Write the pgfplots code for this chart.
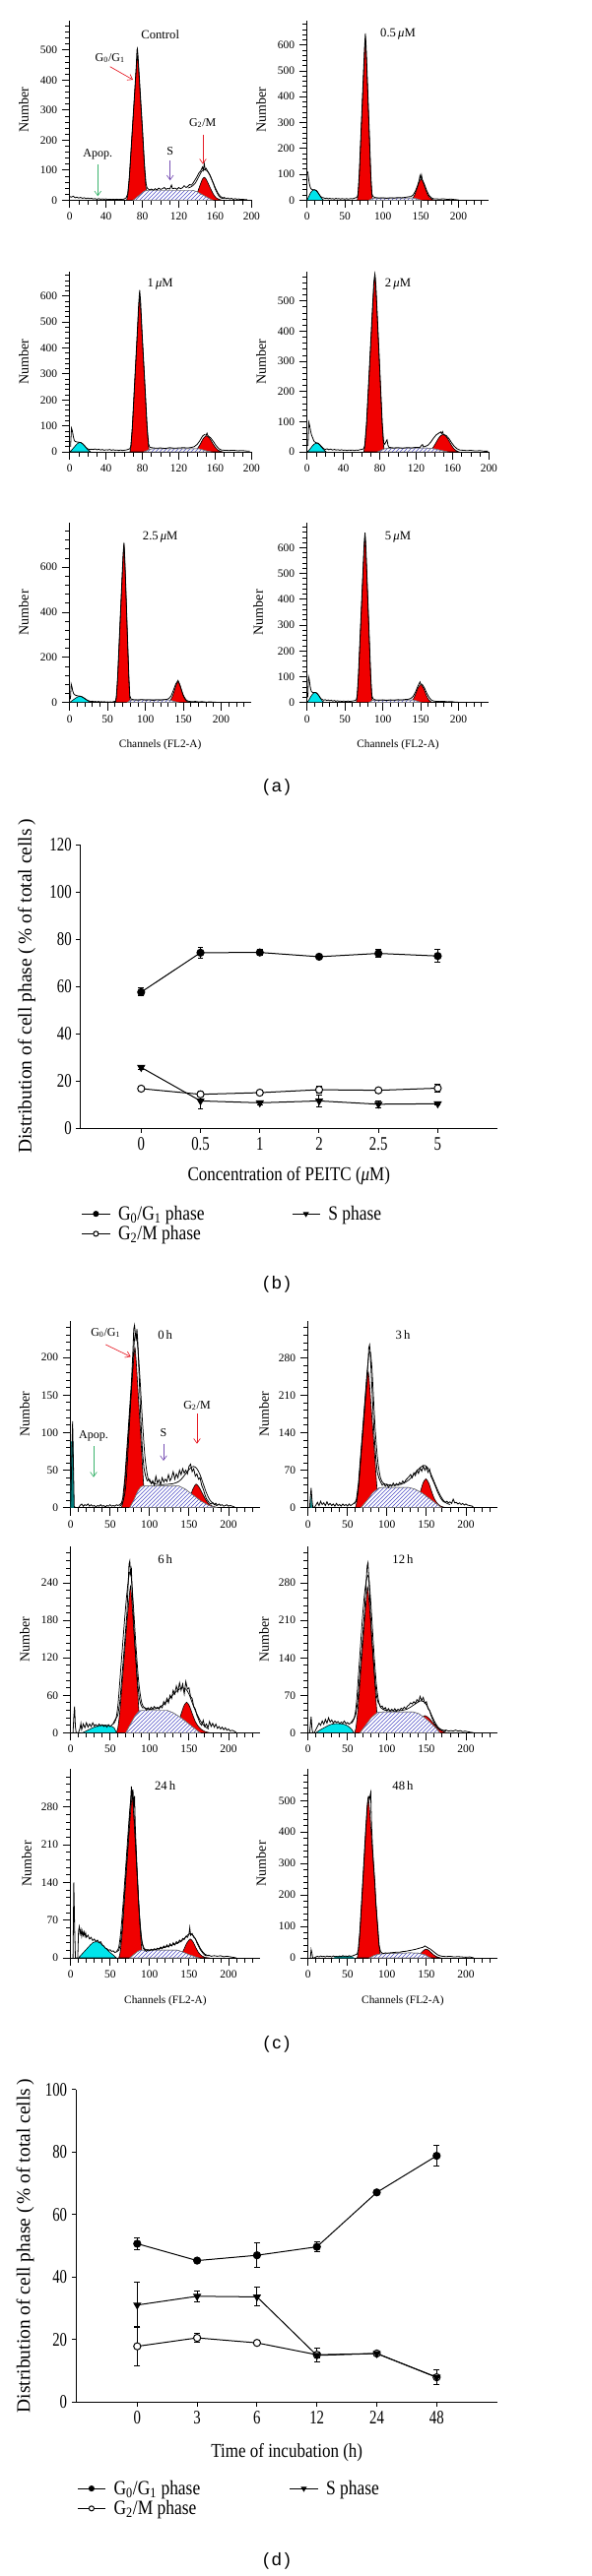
\documentclass[border=0pt]{standalone}
\usepackage{fontspec}
\setmainfont{Liberation Serif}
\newfontfamily\condA[FakeStretch=0.76]{Liberation Serif}
\newfontfamily\condB[FakeStretch=0.85]{Liberation Serif}
\newfontfamily\sansf{Liberation Sans}
\usepackage{pgfplots}
\pgfplotsset{compat=1.18}
\usetikzlibrary{patterns,arrows.meta}
\newcommand{\fsz}[1]{\fontsize{#1pt}{#1pt}\selectfont}
\newcommand{\legf}{\condB\fsz{15.4}}
\definecolor{hred}{RGB}{240,0,0}
\definecolor{hcyan}{RGB}{0,228,235}
\definecolor{hteal}{RGB}{0,128,128}
\definecolor{hatchc}{RGB}{80,80,200}
\definecolor{arrred}{RGB}{230,30,40}
\definecolor{arrpur}{RGB}{120,80,180}
\definecolor{arrgrn}{RGB}{60,180,110}
\pgfplotsset{
  hist/.style={
    scale only axis, anchor=south west,
    axis x line=bottom, axis y line=left,
    axis line style={-, line width=0.75pt},
    xmin=0, ymin=0,
    tick align=outside,
    major tick length=6pt, minor tick length=3.5pt,
    tick style={black, line width=0.6pt},
    ticklabel style={font=\fsz{8.6}},
    /pgf/number format/assume math mode=true,
  },
  histA/.style={hist, width=138.5pt},
  histC/.style={hist, width=144.2pt},
  redpk/.style={fill=hred, draw=black, line width=0.45pt, smooth, tension=0.4},
  shatch/.style={draw=black!55, line width=0.35pt, fill=white, postaction={pattern=north east lines, pattern color=hatchc}},
  cyanpk/.style={fill=hcyan, draw=black, line width=0.45pt, smooth, tension=0.4},
  tealpk/.style={fill=hteal, draw=hteal, line width=0.4pt},
  rawl/.style={black, line width=0.6pt, sharp plot},
  fitl/.style={black, line width=0.55pt, smooth, tension=0.5},
  lineplot/.style={
    scale only axis, anchor=south west,
    axis x line=bottom, axis y line=left,
    axis line style={-, line width=0.75pt},
    tick align=outside, major tick length=3.4pt,
    tick style={black, line width=0.75pt},
    xmin=-1.02, xmax=6.01, ymin=0,
    xtick={0,1,2,3,4,5},
    ticklabel style={font=\condA\fsz{14.6}},
    /pgf/number format/assume math mode=true,
    legend columns=2,
    legend cell align=left,
    legend style={draw=none, fill=none, inner sep=0pt, outer sep=0pt, row sep=3pt,
      font=\legf, nodes={inner sep=0pt},
      /tikz/every odd column/.append style={column sep=6pt}},
    legend image code/.code={\draw[mark repeat=2,mark phase=2,##1,mark size=1.9pt] plot coordinates {(0pt,0pt) (10.6pt,0pt) (21.2pt,0pt)};},
  },
  g1s/.style={black, line width=0.75pt, mark=*, mark size=2.7pt, mark options={solid, fill=black}},
  g2s/.style={black, line width=0.75pt, mark=*, mark size=2.7pt, mark options={solid, fill=white}},
  ss/.style={black, line width=0.75pt, mark=triangle*, mark size=2.9pt, mark options={solid, fill=black, rotate=180}},
  ebar/.style={error bars/y dir=both, error bars/y explicit,
    error bars/error bar style={line width=0.75pt, solid},
    error bars/error mark options={rotate=90, mark size=2.2pt, line width=0.75pt}},
}
\begin{document}
\begin{tikzpicture}[x=0.75pt,y=-0.75pt]
\path[use as bounding box] (0,0) rectangle (600,2617);

% ================= (a) row 1: Control =================
\begin{axis}[histA, height=136.95pt, at={(53.03pt,-152.48pt)}, xmax=200, ymax=599,
  xtick={0,40,...,200}, minor xtick={10,20,...,190},
  ytick={0,100,...,500}, minor ytick={20,40,...,580}]
\addplot[redpk] coordinates {(62.6,0)(63.8,14)(65.6,72)(68.6,216)(71.6,360)(73.3,442)(74.5,480)(75.7,442)(77.4,360)(80.3,216)(83.1,72)(84.9,14)(86,0)} \closedcycle;
\addplot[redpk] coordinates {(134,2)(137,8)(140,22)(142,38)(144,55)(146,70)(148,76)(150,70)(152,58)(155,38)(158,20)(161,8)(164,3)(167,0)} \closedcycle;
\addplot[shatch] coordinates {(70,0)(76,15)(82,30)(86,33)(135,33)(140,28)(146,18)(152,8)(157,0)} \closedcycle;
\addplot[fitl] coordinates {(130,40)(134,45)(138,56)(142,78)(145,95)(148,102)(151,98)(154,84)(157,64)(160,42)(163,24)(166,12)(170,5)};
\addplot[rawl] coordinates {(0,12)(2,10)(4,13)(6,8)(8,10)(10,7)(12,9)(14,6)(16,8)(18,5)(20,7)(22,5)(24,6)(26,4)(28,5)(30,3)(32,5)(34,3)(36,4)(38,3)(40,4)(42,2)(44,3)(46,2)(48,3)(50,2)(52,3)(54,2)(56,3)(58,2)(60,4)(62,7)(63.8,20)(65.6,75)(68.6,220)(71.6,365)(73.3,450)(74,500)(74.5,505)(75.2,480)(75.7,455)(77.4,370)(80.3,225)(82,130)(83.1,85)(84,55)(85,42)(86,38)(88,34)(90,37)(92,33)(94,38)(96,34)(98,40)(100,36)(102,38)(104,42)(106,36)(108,39)(110,37)(112,50)(113,38)(116,40)(118,36)(120,42)(122,38)(124,41)(126,48)(128,42)(130,46)(132,52)(134,50)(136,58)(138,68)(140,78)(142,90)(144,97)(146,110)(147,100)(148,122)(149,102)(150,106)(152,95)(154,85)(156,70)(158,55)(160,38)(162,25)(164,14)(166,8)(168,6)(170,9)(172,5)(174,7)(176,4)(178,6)(180,3)(182,5)(184,3)(186,4)(188,2)(190,3)(192,2)(195,2)};
\end{axis}

% ================= (a) row 1: 0.5 uM =================
\begin{axis}[histA, height=136.95pt, at={(233.78pt,-152.48pt)}, xmax=240, ymax=695,
  xtick={0,50,...,200}, minor xtick={10,20,...,230},
  ytick={0,100,...,600}, minor ytick={20,40,...,680}]
\addplot[redpk] coordinates {(66.2,0)(67.3,19)(68.9,94)(71.6,281)(74.3,469)(75.9,575)(77,625)(78,575)(79.4,469)(81.8,281)(84.1,94)(85.6,19)(86.5,0)} \closedcycle;
\addplot[redpk] coordinates {(136,0)(139,6)(142,20)(145,45)(148,70)(150.5,82)(153,70)(156,45)(159,22)(162,9)(165,3)(168,0)} \closedcycle;
\addplot[shatch] coordinates {(82,0)(86,6)(90,8)(140,8)(146,4)(150,0)} \closedcycle;
\addplot[cyanpk] coordinates {(0,0)(2,12)(4,25)(6,34)(8,39)(10,40)(12,38)(14,32)(16,22)(18,12)(20,5)(22,0)} \closedcycle;
\addplot[rawl] coordinates {(1,110)(2,85)(3,65)(4,52)(5,45)(6,42)(8,40)(10,40)(12,37)(14,30)(16,22)(18,14)(20,10)(22,9)(24,6)(26,8)(28,5)(30,7)(32,5)(34,6)(36,4)(38,7)(40,5)(42,6)(44,4)(46,6)(48,5)(50,4)(52,6)(54,4)(56,5)(58,6)(60,5)(62,7)(64,9)(66.2,12)(67.3,25)(68.9,100)(71.6,290)(74.3,480)(75.9,590)(77,645)(78,590)(79.4,480)(81.8,290)(84.1,100)(85.6,25)(87,14)(90,10)(92,9)(95,8)(100,9)(105,7)(110,9)(115,8)(120,10)(125,9)(130,11)(134,13)(137,14)(140,20)(143,35)(146,58)(148,78)(149,95)(150,84)(151,98)(152,80)(155,60)(158,36)(161,18)(164,9)(167,5)(170,5)(175,4)(180,5)(185,3)(190,4)(195,2)(200,1)};
\end{axis}

% ================= (a) row 2: 1 uM =================
\begin{axis}[histA, height=137.5pt, at={(53.03pt,-344.25pt)}, xmax=200, ymax=695,
  xtick={0,40,...,200}, minor xtick={10,20,...,190},
  ytick={0,100,...,600}, minor ytick={20,40,...,680}]
\addplot[redpk] coordinates {(66.2,0)(67.3,18)(68.9,89)(71.6,268)(74.3,446)(75.9,547)(77,595)(78.1,547)(79.7,446)(82.5,268)(85.2,89)(86.8,18)(87.9,0)} \closedcycle;
\addplot[redpk] coordinates {(135,0)(138,5)(141,15)(144,32)(147,52)(150.5,62)(154,52)(157,34)(160,18)(163,7)(166,2)(168,0)} \closedcycle;
\addplot[shatch] coordinates {(82,0)(88,10)(92,12)(142,12)(150,4)(155,0)} \closedcycle;
\addplot[cyanpk] coordinates {(0,0)(2,6)(4,14)(6,22)(8,30)(10,35)(12,36)(14,32)(16,25)(18,16)(20,8)(22,3)(23,0)} \closedcycle;
\addplot[rawl] coordinates {(1,20)(2,91)(3,80)(4,60)(5,45)(6,40)(8,38)(10,37)(12,36)(14,32)(16,25)(18,17)(20,11)(22,9)(24,10)(26,9)(28,11)(30,8)(32,10)(34,7)(36,9)(38,6)(40,8)(42,7)(44,9)(46,6)(48,8)(50,6)(52,7)(54,5)(56,7)(58,5)(60,6)(62,7)(64,9)(66.2,12)(67.3,22)(68.9,95)(71.6,275)(74.3,455)(75.9,570)(77,623)(78.1,575)(79.7,455)(82.5,275)(85.2,95)(86.8,30)(88,18)(90,16)(95,14)(100,15)(105,13)(110,16)(115,14)(120,15)(125,16)(130,15)(134,17)(137,20)(140,28)(143,42)(146,60)(148,66)(150,64)(151,72)(152,62)(155,54)(158,40)(161,24)(164,12)(167,7)(170,6)(175,5)(180,6)(185,4)(190,5)(195,3)(198,3)};
\end{axis}

% ================= (a) row 2: 2 uM =================
\begin{axis}[histA, height=137.5pt, at={(233.78pt,-344.25pt)}, xmax=200, ymax=598,
  xtick={0,40,...,200}, minor xtick={10,20,...,190},
  ytick={0,100,...,500}, minor ytick={20,40,...,580}]
\addplot[redpk] coordinates {(62.3,0)(63.5,18)(65.4,88)(68.5,265)(71.5,441)(73.4,541)(74.6,588)(75.7,541)(77.3,441)(80,265)(82.7,88)(84.3,18)(85.4,0)} \closedcycle;
\addplot[redpk] coordinates {(132,0)(135,4)(138,12)(141,26)(144,42)(147,54)(149.5,57)(152,54)(155,42)(158,26)(161,12)(164,4)(167,0)} \closedcycle;
\addplot[shatch] coordinates {(78,0)(85,10)(90,12)(130,13)(140,10)(150,3)(154,0)} \closedcycle;
\addplot[cyanpk] coordinates {(0,0)(2,5)(4,12)(6,20)(8,26)(10,29)(12,28)(14,23)(16,15)(18,8)(20,3)(21,0)} \closedcycle;
\addplot[rawl] coordinates {(1,20)(2,97)(3,85)(4,68)(5,55)(6,48)(7,40)(8,34)(10,30)(12,29)(14,24)(16,17)(18,11)(20,8)(22,10)(24,7)(26,9)(28,6)(30,8)(32,6)(34,7)(36,5)(38,7)(40,5)(42,6)(44,4)(46,6)(48,5)(50,6)(52,4)(54,6)(56,5)(58,7)(60,8)(62.3,10)(63.5,22)(65.4,95)(68.5,272)(71.5,450)(73.4,560)(74.6,588)(75.7,550)(77.3,450)(80,272)(82.7,95)(84.3,30)(85.5,25)(87,35)(88,40)(89,22)(90,15)(95,13)(100,14)(105,12)(110,14)(115,13)(120,15)(124,14)(126,22)(127,24)(128,16)(130,18)(133,22)(136,32)(139,45)(142,56)(145,62)(147,66)(148,60)(149,67)(150,58)(153,54)(156,44)(159,30)(162,18)(165,10)(168,6)(172,5)(176,4)(180,5)(185,3)(190,4)(195,2)(199,2)};
\end{axis}

% ================= (a) row 3: 2.5 uM =================
\begin{axis}[histA, height=137.25pt, at={(53.03pt,-535.28pt)}, xmax=240, ymax=798,
  xtick={0,50,...,200}, minor xtick={10,20,...,230},
  ytick={0,200,...,600}, minor ytick={40,80,...,760}]
\addplot[redpk] coordinates {(60.5,0)(61.6,21)(63.3,105)(66.1,315)(68.9,525)(70.6,644)(71.7,700)(72.6,644)(73.9,525)(76,315)(78.2,105)(79.4,21)(80.3,0)} \closedcycle;
\addplot[redpk] coordinates {(129,0)(132,6)(135,22)(138,50)(140.5,78)(143,93)(145.5,78)(148,50)(151,22)(154,7)(157,2)(159,0)} \closedcycle;
\addplot[shatch] coordinates {(76,0)(80,10)(85,12)(130,12)(135,8)(140,3)(143,0)} \closedcycle;
\addplot[cyanpk] coordinates {(0,0)(3,8)(6,15)(9,22)(12,27)(14,28)(17,24)(20,17)(23,10)(26,4)(28,0)} \closedcycle;
\addplot[rawl] coordinates {(1,15)(2,82)(3,70)(4,52)(5,42)(6,36)(8,32)(10,30)(12,29)(14,28)(16,26)(18,22)(20,18)(22,13)(24,9)(26,7)(28,5)(30,6)(32,4)(34,5)(36,3)(38,5)(40,3)(42,4)(44,3)(46,4)(48,2)(50,3)(52,2)(54,3)(56,2)(58,4)(60.5,6)(61.6,25)(63.3,110)(66.1,322)(68.9,535)(70.6,660)(71.7,707)(72.6,650)(73.9,530)(76,320)(78.2,110)(79.4,30)(81,16)(85,12)(90,11)(95,13)(100,11)(105,12)(110,10)(115,12)(120,11)(125,13)(128,14)(131,18)(134,30)(137,55)(140,82)(142,92)(143,98)(144,90)(146,72)(148,52)(150,32)(152,20)(154,11)(156,7)(158,5)(162,4)(166,5)(170,3)(175,4)(180,2)(185,3)(190,2)(195,1)};
\end{axis}

% ================= (a) row 3: 5 uM =================
\begin{axis}[histA, height=137.25pt, at={(233.78pt,-535.28pt)}, xmax=240, ymax=698,
  xtick={0,50,...,200}, minor xtick={10,20,...,230},
  ytick={0,100,...,600}, minor ytick={20,40,...,680}]
\addplot[redpk] coordinates {(64.9,0)(66.1,20)(67.8,98)(70.7,293)(73.6,488)(75.3,598)(76.5,650)(77.5,598)(79,488)(81.5,293)(84,98)(85.5,20)(86.5,0)} \closedcycle;
\addplot[redpk] coordinates {(134,0)(137,4)(140,13)(143,31)(146,54)(150,70)(154,54)(157,31)(160,13)(163,4)(166,0)} \closedcycle;
\addplot[shatch] coordinates {(82,0)(86,8)(90,10)(140,10)(146,5)(150,0)} \closedcycle;
\addplot[cyanpk] coordinates {(0,0)(2,8)(4,18)(6,28)(8,35)(10,39)(12,38)(14,33)(16,25)(18,15)(20,7)(22,2)(23,0)} \closedcycle;
\addplot[rawl] coordinates {(1,20)(2,100)(3,88)(4,65)(5,50)(6,42)(8,38)(10,39)(12,38)(14,33)(16,25)(18,16)(20,12)(22,9)(24,11)(26,8)(28,10)(30,7)(32,9)(34,6)(36,8)(38,5)(40,7)(42,5)(44,6)(46,4)(48,6)(50,5)(52,4)(54,6)(56,4)(58,5)(60,6)(62,7)(64.9,10)(66.1,25)(67.8,105)(70.7,300)(73.6,495)(75.3,610)(76.5,658)(77.5,610)(79,495)(81.5,300)(84,105)(85.5,28)(87,15)(90,10)(95,9)(100,10)(105,8)(110,10)(115,9)(120,11)(125,10)(130,12)(134,13)(137,16)(140,24)(143,40)(146,62)(148,74)(149,80)(150,72)(152,70)(155,56)(158,36)(161,20)(164,10)(167,6)(170,5)(175,4)(180,5)(185,3)(190,4)(195,2)(200,1)};
\end{axis}

% ================= (b) =================
\begin{axis}[lineplot, at={(61.43pt,-859.5pt)}, width=317.5pt, height=215.8pt,
  ymax=120, ytick={0,20,...,120}, xticklabels={0,0.5,1,2,2.5,5},
  legend style={at={(axis description cs:0.002,-0.2746)}, anchor=north west}]
\addlegendimage{g1s}\addlegendentry{\legf\makebox[132pt][l]{G\textsubscript{0}/G\textsubscript{1} phase}}
\addlegendimage{ss}\addlegendentry{\legf S phase}
\addlegendimage{g2s}\addlegendentry{\legf\makebox[132pt][l]{G\textsubscript{2}/M phase}}
\addplot[g2s, forget plot, ebar] coordinates {(0,16.7) +- (0,0.8) (1,14.3) +- (0,1.3) (2,15.0) +- (0,0.8) (3,16.25) +- (0,1.5) (4,16.0) +- (0,1.0) (5,16.9) +- (0,1.8)};
\addplot[ss, forget plot, ebar] coordinates {(0,25.7) +- (0,0.8) (1,11.5) +- (0,3.5) (2,10.7) +- (0,0.8) (3,11.5) +- (0,2.6) (4,10.1) +- (0,1.5) (5,10.3) +- (0,0.5)};
\addplot[g1s, forget plot, ebar] coordinates {(0,57.6) +- (0,1.7) (1,74.3) +- (0,2.3) (2,74.4) +- (0,1.2) (3,72.6) +- (0,1.0) (4,74.0) +- (0,1.6) (5,72.9) +- (0,2.6)};
\end{axis}

% ================= (c) row 1: 0 h =================
\begin{axis}[histC, height=142.5pt, at={(53.78pt,-1148.78pt)}, xmax=240, ymax=249,
  xtick={0,50,...,200}, minor xtick={10,20,...,230},
  ytick={0,50,...,200}, minor ytick={10,20,...,240}]
\addplot[redpk] coordinates {(64.3,0)(66,6)(68.6,32)(72.9,96)(77.2,160)(79.8,196)(81.5,213)(83,196)(85.1,160)(88.8,96)(92.4,32)(94.6,6)(96,0)} \closedcycle;
\addplot[redpk] coordinates {(145,0)(149,8)(152,16)(155,25)(159,31.5)(163,27)(167,19)(171,11)(175,5)(180,2)(187,0)} \closedcycle;
\addplot[shatch] coordinates {(75,0)(80,10)(85,22)(89,28)(92,29)(137,29)(145,25)(155,17)(165,9)(175,3)(185,0)} \closedcycle;
\addplot[tealpk] coordinates {(0,0)(1,88)(3,88)(4,0)} \closedcycle;
\addplot[fitl] coordinates {(62,2)(66,7)(70,30)(74,100)(78,175)(81,225)(83,232)(85,215)(88,170)(91,115)(94,70)(97,45)(100,35)(110,31)(120,31)(130,32)(137,35)(142,40)(147,47)(152,53)(156,55)(160,52)(164,44)(168,32)(172,20)(176,11)(180,6)(185,3)};
\addplot[rawl] coordinates {(0,0)(1.5,70)(2.5,115)(3.5,60)(4.5,2)(6,0)(10,0)(12,3)(14,5)(16,2)(18,4)(20,3)(22,5)(24,2)(26,4)(28,2)(30,3)(32,1)(34,3)(36,2)(38,4)(40,2)(42,3)(44,1)(46,3)(48,2)(50,4)(52,2)(54,3)(56,2)(58,4)(60,3)(62,4)(64.3,6)(66,12)(68.6,38)(72.9,102)(77.2,170)(79,210)(80,238)(81,243)(82,232)(83,222)(84,238)(85,222)(86,198)(88.8,120)(91,75)(93,52)(95,42)(97,36)(100,38)(102,32)(104,36)(106,30)(108,42)(110,33)(112,37)(114,31)(116,40)(118,34)(120,38)(122,35)(124,44)(126,36)(128,40)(130,48)(132,38)(134,45)(136,40)(138,50)(140,44)(142,52)(144,46)(146,50)(148,45)(150,55)(152,58)(154,48)(156,52)(158,42)(160,45)(162,38)(164,40)(166,30)(168,25)(170,18)(172,12)(174,9)(176,6)(178,5)(180,7)(182,4)(184,6)(186,3)(188,5)(190,3)(192,4)(194,2)(196,3)(198,4)(200,2)(202,3)(205,2)(208,1)};
\end{axis}

% ================= (c) row 1: 3 h =================
\begin{axis}[histC, height=142.5pt, at={(234.53pt,-1148.78pt)}, xmax=240, ymax=349,
  xtick={0,50,...,200}, minor xtick={10,20,...,230},
  ytick={0,70,...,280}, minor ytick={14,28,...,336}]
\addplot[redpk] coordinates {(59.8,0)(61.4,8)(63.9,38)(68,114)(72.2,190)(74.7,234)(76.3,254)(77.8,234)(79.9,190)(83.7,114)(87.3,38)(89.5,8)(91,0)} \closedcycle;
\addplot[redpk] coordinates {(134,0)(137,7)(140,18)(143,33)(146,47)(149.4,54)(153,46)(156,33)(160,17)(164,8)(168,3)(172,1)(177,0)} \closedcycle;
\addplot[shatch] coordinates {(67,0)(74,12)(82,28)(90,37)(95,38)(127,38)(135,35)(145,27)(155,16)(163,7)(169,0)} \closedcycle;
\addplot[tealpk] coordinates {(3,0)(4,22)(5,0)} \closedcycle;
\addplot[fitl] coordinates {(58,8)(61,12)(64,40)(68,115)(72,195)(75,250)(77,285)(79,290)(81,260)(83,205)(85,150)(87,110)(89,80)(92,55)(96,45)(104,42)(112,42)(120,45)(128,52)(134,62)(140,72)(145,78)(148,79)(152,74)(156,62)(160,48)(164,34)(168,22)(172,13)(176,8)(180,6)};
\addplot[rawl] coordinates {(2,0)(3,20)(4,37)(5,15)(6,2)(8,0)(10,5)(12,10)(14,4)(16,12)(18,6)(20,9)(22,4)(24,11)(26,5)(28,8)(30,4)(32,7)(34,3)(36,8)(38,4)(40,6)(42,3)(44,7)(46,4)(48,6)(50,3)(52,7)(54,4)(56,6)(58,8)(59.8,10)(61.4,16)(63.9,45)(68,122)(72.2,200)(74.7,250)(75.5,262)(76.3,275)(77,298)(78,304)(79,288)(79.9,258)(82,195)(83.7,140)(86,92)(88,65)(90,55)(92,48)(94,42)(96,45)(98,40)(100,44)(102,38)(104,43)(106,40)(108,46)(110,41)(112,45)(114,42)(116,47)(118,44)(120,50)(122,46)(124,52)(126,55)(128,58)(130,62)(132,56)(134,65)(136,60)(138,70)(140,64)(142,74)(144,68)(146,78)(148,70)(150,76)(152,66)(154,72)(156,58)(158,52)(160,45)(162,38)(164,30)(166,24)(168,18)(170,14)(172,11)(174,10)(176,12)(178,9)(180,11)(182,8)(184,16)(186,9)(188,10)(190,7)(192,9)(194,6)(196,8)(198,5)(200,7)(202,5)(205,4)(208,3)(210,0)};
\end{axis}

% ================= (c) row 2: 6 h =================
\begin{axis}[histC, height=142.2pt, at={(53.78pt,-1320.23pt)}, xmax=240, ymax=299,
  xtick={0,50,...,200}, minor xtick={10,20,...,230},
  ytick={0,60,...,240}, minor ytick={12,24,...,288}]
\addplot[redpk] coordinates {(58,0)(59.8,7)(62.5,35)(67,106)(71.3,176)(74.1,216)(75.9,235)(77.3,216)(79.4,176)(83,106)(86.5,35)(88.6,7)(90,0)} \closedcycle;
\addplot[redpk] coordinates {(131,0)(134,8)(137,18)(140,30)(143.5,43)(147,49)(150.5,43)(154,31)(158,18)(162,10)(166,5)(170,2)(176,0)} \closedcycle;
\addplot[shatch] coordinates {(70,0)(75,12)(82,28)(87,35)(92,36)(122,36)(130,32)(140,24)(150,14)(158,6)(164,0)} \closedcycle;
\addplot[cyanpk] coordinates {(15,0)(20,3)(25,6)(30,9)(35,11)(40,12)(45,12)(50,11)(55,8)(58,0)} \closedcycle;
\addplot[fitl] coordinates {(54,14)(57,20)(60,45)(64,110)(68,175)(71,220)(74,252)(76,258)(78,232)(80,195)(83,135)(86,85)(89,55)(92,42)(98,38)(105,38)(112,40)(120,48)(126,56)(132,64)(138,70)(142,72)(146,70)(150,62)(155,45)(160,30)(165,18)(170,10)(175,6)};
\addplot[rawl] coordinates {(3,0)(4,25)(5,42)(6,10)(7,0)(10,0)(12,8)(13,15)(14,5)(16,14)(18,8)(20,16)(22,9)(24,14)(26,10)(28,16)(30,11)(32,13)(34,10)(36,14)(38,11)(40,13)(42,10)(44,12)(46,9)(48,13)(50,10)(52,12)(54,15)(56,20)(58,24)(59.8,28)(62.5,50)(67,120)(71.3,190)(73,240)(74,270)(75,275)(76,255)(77,262)(78,228)(79.4,190)(81,150)(83,115)(85,78)(87,55)(89,45)(91,40)(94,40)(96,36)(98,40)(100,37)(102,41)(104,38)(106,42)(108,39)(110,41)(112,38)(114,43)(116,40)(118,50)(120,45)(122,55)(124,48)(126,60)(128,55)(130,68)(132,62)(134,75)(136,66)(138,80)(140,68)(142,78)(144,62)(146,82)(148,70)(150,72)(152,58)(154,55)(156,42)(158,38)(160,28)(162,22)(164,15)(166,12)(168,20)(170,10)(172,14)(174,8)(176,18)(178,10)(180,15)(182,9)(184,14)(186,7)(188,10)(190,6)(192,9)(194,5)(196,8)(198,4)(200,6)(202,3)(205,4)(208,2)(210,0)};
\end{axis}

% ================= (c) row 2: 12 h =================
\begin{axis}[histC, height=142.2pt, at={(234.53pt,-1320.23pt)}, xmax=240, ymax=349,
  xtick={0,50,...,200}, minor xtick={10,20,...,230},
  ytick={0,70,...,280}, minor ytick={14,28,...,336}]
\addplot[redpk] coordinates {(58.9,0)(60.6,8)(63.1,41)(67.2,123)(71.4,205)(74,251)(75.5,273)(77.1,251)(79.4,205)(83.3,123)(87.1,41)(89.5,8)(91,0)} \closedcycle;
\addplot[redpk] coordinates {(135,0)(139,12)(142,22)(145,29)(148,32)(151,30)(154,26)(158,19)(162,12)(166,6)(170,3)(175,0)} \closedcycle;
\addplot[shatch] coordinates {(66,0)(72,12)(80,28)(88,38)(95,39)(133,39)(140,36)(148,28)(155,19)(162,9)(167,0)} \closedcycle;
\addplot[cyanpk] coordinates {(10,0)(15,5)(20,9)(25,13)(30,16)(35,17)(40,17)(45,16)(50,13)(55,7)(58,0)} \closedcycle;
\addplot[fitl] coordinates {(55,18)(58,25)(61,50)(65,130)(69,215)(72,265)(75,292)(77,290)(79,255)(81,210)(84,140)(87,85)(90,55)(93,46)(98,42)(105,41)(115,41)(125,44)(132,50)(138,56)(143,60)(147,58)(151,50)(155,38)(160,22)(165,10)(170,5)(175,3)};
\addplot[rawl] coordinates {(2,0)(3,15)(4,30)(5,8)(6,0)(8,0)(10,6)(12,12)(14,18)(16,14)(18,22)(20,16)(22,25)(24,18)(26,28)(28,20)(30,24)(32,18)(34,22)(36,19)(38,21)(40,17)(42,20)(44,18)(46,22)(48,17)(50,19)(52,16)(54,18)(56,22)(58.9,28)(60.6,35)(63.1,60)(67.2,140)(71.4,222)(73,262)(74,290)(75,312)(76,318)(77,290)(78,265)(79.4,215)(81,175)(83.3,128)(85,95)(87,68)(89,56)(90,55)(92,48)(94,50)(96,44)(98,47)(100,41)(102,45)(104,40)(106,44)(108,41)(110,45)(112,40)(114,44)(116,42)(118,46)(120,44)(122,48)(124,45)(126,50)(128,52)(130,56)(132,54)(134,58)(136,55)(138,62)(140,58)(142,68)(144,60)(146,66)(148,55)(150,58)(152,45)(154,42)(156,32)(158,25)(160,18)(162,14)(164,10)(166,8)(168,6)(170,5)(172,4)(175,5)(178,3)(181,4)(184,3)(187,5)(190,3)(193,4)(196,2)(199,3)(202,2)(206,1)(210,0)};
\end{axis}

% ================= (c) row 3: 24 h =================
\begin{axis}[histC, height=143.8pt, at={(53.78pt,-1491.75pt)}, xmax=240, ymax=350,
  xtick={0,50,...,200}, minor xtick={10,20,...,230},
  ytick={0,70,...,280}, minor ytick={14,28,...,336}]
\addplot[redpk] coordinates {(61,0)(62.7,9)(65.3,45)(69.5,135)(73.8,225)(76.3,276)(78,300)(79.4,276)(81.5,225)(85,135)(88.5,45)(90.6,9)(92,0)} \closedcycle;
\addplot[redpk] coordinates {(138,0)(141,8)(144,17)(147,27)(151.5,35)(155,30)(158,21)(162,10)(166,4)(170,1)(176,0)} \closedcycle;
\addplot[shatch] coordinates {(75,0)(80,6)(85,12)(89,14.6)(135,14.6)(142,11)(150,6)(156,3)(162,0)} \closedcycle;
\addplot[cyanpk] coordinates {(10,0)(15,8)(20,16)(25,24)(28,28)(32,30)(36,29)(40,24)(45,17)(50,10)(55,4)(58,0)} \closedcycle;
\addplot[fitl] coordinates {(58,12)(61,20)(64,55)(68,130)(72,215)(75,275)(77,300)(79,295)(81,250)(84,165)(87,85)(90,35)(93,18)(97,15)(105,15)(115,18)(125,22)(135,27)(142,33)(148,42)(152,45)(156,40)(160,30)(165,16)(170,7)(175,4)};
\addplot[rawl] coordinates {(3,0)(4,140)(5,60)(6,0)(9,0)(10,50)(11,58)(12,45)(13,52)(14,40)(15,50)(16,42)(17,48)(18,40)(19,46)(20,38)(22,42)(24,35)(26,38)(28,32)(30,35)(32,30)(34,33)(36,28)(38,30)(40,24)(42,22)(44,18)(46,17)(48,14)(50,15)(52,12)(54,13)(56,10)(58,11)(61,14)(62.7,22)(65.3,55)(69.5,145)(73.8,238)(76,290)(77,318)(78,300)(79,312)(80,280)(81,300)(82,240)(84,170)(86,105)(88,60)(90,32)(92,18)(94,14)(96,12)(98,15)(100,13)(102,16)(104,14)(106,17)(108,15)(110,18)(112,16)(114,20)(116,17)(118,22)(120,19)(122,24)(124,20)(126,26)(128,22)(130,28)(132,24)(134,30)(136,27)(138,33)(140,30)(142,36)(144,34)(146,40)(148,38)(150,44)(151,56)(152,42)(154,45)(156,38)(158,36)(160,28)(162,22)(164,16)(166,12)(168,8)(170,5)(172,4)(175,5)(178,3)(182,4)(186,3)(190,4)(194,2)(198,3)(202,2)(206,1)(210,0)};
\end{axis}

% ================= (c) row 3: 48 h =================
\begin{axis}[histC, height=143.8pt, at={(234.53pt,-1491.75pt)}, xmax=240, ymax=600,
  xtick={0,50,...,200}, minor xtick={10,20,...,230},
  ytick={0,100,...,500}, minor ytick={20,40,...,580}]
\addplot[redpk] coordinates {(62.2,0)(63.6,15)(65.7,77)(69.3,230)(72.8,383)(74.9,469)(76.3,510)(78,469)(80.5,383)(84.7,230)(88.8,77)(91.3,15)(93,0)} \closedcycle;
\addplot[redpk] coordinates {(136,0)(139,5)(142,12)(145,20)(149,28)(153,24)(156,17)(159,10)(162,5)(165,2)(168,0)} \closedcycle;
\addplot[shatch] coordinates {(78,0)(84,8)(90,12)(100,14)(130,16)(140,15)(148,10)(152,4)(155,0)} \closedcycle;
\addplot[tealpk] coordinates {(33,0)(36,4)(40,5)(50,5)(55,4)(58,0)} \closedcycle;
\addplot[rawl] coordinates {(3,0)(4,26)(5,15)(6,0)(8,0)(10,3)(12,5)(14,3)(16,6)(18,4)(20,5)(22,3)(24,6)(26,4)(28,5)(30,3)(32,6)(34,4)(36,5)(38,3)(40,6)(42,4)(44,7)(46,5)(48,6)(50,4)(52,7)(54,5)(56,6)(58,8)(60,10)(62.2,12)(63.6,25)(65.7,85)(69.3,240)(72.8,395)(74.9,480)(76,505)(77,512)(78,505)(79,520)(79.5,526)(80.5,420)(82,340)(84.7,240)(86,170)(88.8,85)(90,40)(92,20)(94,15)(96,14)(98,16)(100,15)(104,16)(108,17)(112,18)(116,18)(120,20)(124,21)(128,23)(132,25)(136,27)(140,30)(143,32)(146,34)(148,38)(150,35)(152,32)(155,28)(158,22)(161,16)(164,10)(167,7)(170,5)(175,4)(180,5)(185,3)(190,4)(195,3)(200,2)(205,3)(210,0)};
\end{axis}

% ================= (d) =================
\begin{axis}[lineplot, at={(57.98pt,-1830.38pt)}, width=320.55pt, height=238.35pt,
  ymax=100, ytick={0,20,...,100}, xticklabels={0,3,6,12,24,48},
  legend style={at={(axis description cs:0.0023,-0.250)}, anchor=north west}]
\addlegendimage{g1s}\addlegendentry{\legf\makebox[133.7pt][l]{G\textsubscript{0}/G\textsubscript{1} phase}}
\addlegendimage{ss}\addlegendentry{\legf S phase}
\addlegendimage{g2s}\addlegendentry{\legf\makebox[133.7pt][l]{G\textsubscript{2}/M phase}}
\addplot[g2s, forget plot, ebar] coordinates {(0,17.9) +- (0,6.4) (1,20.6) +- (0,1.3) (2,19.0) +- (0,0.7) (3,15.2) +- (0,1.0) (4,15.6) +- (0,0.6) (5,8.0) +- (0,2.4)};
\addplot[ss, forget plot, ebar] coordinates {(0,31.1) +- (0,7.3) (1,33.9) +- (0,1.7) (2,33.7) +- (0,3.0) (3,15.0) +- (0,2.2) (4,15.6) +- (0,0.6) (5,8.0) +- (0,2.4)};
\addplot[g1s, forget plot, ebar] coordinates {(0,50.7) +- (0,2.0) (1,45.3) +- (0,0.6) (2,47.0) +- (0,4.0) (3,49.7) +- (0,1.5) (4,67.1) +- (0,0.6) (5,78.8) +- (0,3.2)};
\end{axis}

% ================= texts =================
\begin{scope}[font=\fsz{10.5}]
\node[rotate=90] at (24,112) {Number};
\node[rotate=90] at (265,112) {Number};
\node[rotate=90] at (24,367.3) {Number};
\node[rotate=90] at (265,367.3) {Number};
\node[rotate=90] at (24,622.2) {Number};
\node[rotate=90] at (262,622.2) {Number};
\node[rotate=90] at (25,1436.7) {Number};
\node[rotate=90] at (268,1436.7) {Number};
\node[rotate=90] at (25,1665.5) {Number};
\node[rotate=90] at (268,1665.5) {Number};
\node[rotate=90] at (27,1893.2) {Number};
\node[rotate=90] at (265,1893.2) {Number};
\end{scope}
\begin{scope}[font=\fsz{9.5}]
\node at (162.7,35) {Control};
\node at (404,35) {0.5\,\textit{μ}M};
\node at (162.7,289) {1\,\textit{μ}M};
\node at (404,289) {2\,\textit{μ}M};
\node at (162.7,545.7) {2.5\,\textit{μ}M};
\node at (404,545.7) {5\,\textit{μ}M};
\node at (167.7,1356) {0\,h};
\node at (409,1356) {3\,h};
\node at (167.7,1584.3) {6\,h};
\node at (409,1584.3) {12\,h};
\node at (167.7,1814) {24\,h};
\node at (409,1814) {48\,h};
\end{scope}
\begin{scope}[font=\fsz{8.5}]
\node at (162.7,756.7) {Channels (FL2-A)};
\node at (404,756.7) {Channels (FL2-A)};
\node at (167.9,2032.5) {Channels (FL2-A)};
\node at (408.9,2032.5) {Channels (FL2-A)};
\end{scope}
% annotations control
\begin{scope}[font=\fsz{9}, line width=0.5pt]
\node at (111.7,59) {G\textsubscript{0}/G\textsubscript{1}};
\draw[arrred, -{Straight Barb[length=3.5pt,width=5pt]}] (111.7,67.7) -- (135,81);
\node at (205.7,125) {G\textsubscript{2}/M};
\draw[arrred, -{Straight Barb[length=3.5pt,width=5pt]}] (206,136.7) -- (206,166.7);
\node at (172.7,154) {S};
\draw[arrpur, -{Straight Barb[length=3.5pt,width=5pt]}] (172.7,163) -- (172.7,183.3);
\node at (99.3,156.7) {Apop.};
\draw[arrgrn, -{Straight Barb[length=3.5pt,width=5pt]}] (99.3,167.3) -- (99.3,199.3);
% annotations 0 h
\node at (107.3,1354) {G\textsubscript{0}/G\textsubscript{1}};
\draw[arrred, -{Straight Barb[length=3.5pt,width=5pt]}] (107.3,1366) -- (132.7,1378.3);
\node at (200,1427.7) {G\textsubscript{2}/M};
\draw[arrred, -{Straight Barb[length=3.5pt,width=5pt]}] (200,1436) -- (200,1466.7);
\node at (166,1456) {S};
\draw[arrpur, -{Straight Barb[length=3.5pt,width=5pt]}] (166,1466.7) -- (166,1484);
\node at (95,1458.3) {Apop.};
\draw[arrgrn, -{Straight Barb[length=3.5pt,width=5pt]}] (95,1469.3) -- (95,1500.7);
\end{scope}
% axis labels of (b) and (d)
\node[font=\condB\fsz{15}] at (293.3,1195) {Concentration of PEITC (\textit{μ}M)};
\node[font=\fsz{14.6}, rotate=90] at (27,1002) {Distribution of cell phase (\,\% of total cells\,)};
\node[font=\condB\fsz{15}] at (291.2,2491.7) {Time of incubation (h)};
\node[font=\fsz{14.6}, rotate=90] at (25.7,2281.6) {Distribution of cell phase (\,\% of total cells\,)};
% panel labels
\begin{scope}[font=\sansf\fsz{13.5}]
\node at (281,800) {(\,a\,)};
\node at (281,1305) {(\,b\,)};
\node at (281,2076.7) {(\,c\,)};
\node at (281,2601.7) {(\,d\,)};
\end{scope}
\end{tikzpicture}
\end{document}
